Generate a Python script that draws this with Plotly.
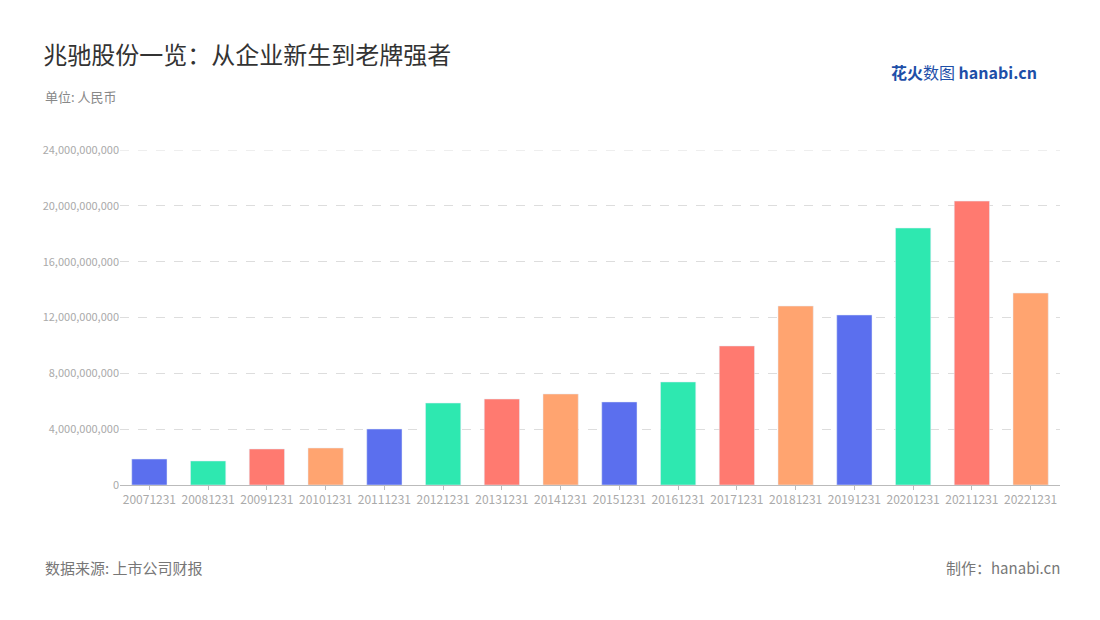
import plotly.graph_objects as go

years = ["20071231","20081231","20091231","20101231","20111231","20121231","20131231","20141231",
         "20151231","20161231","20171231","20181231","20191231","20201231","20211231","20221231"]
revenue = [1.86e9,1.72e9,2.58e9,2.65e9,4.01e9,5.87e9,6.16e9,6.52e9,5.95e9,7.38e9,9.96e9,12.82e9,12.18e9,18.41e9,20.34e9,13.75e9]
palette = ["#5B6FEE","#2EE8B0","#FF7A70","#FFA470"]
tickvals = [0,4e9,8e9,12e9,16e9,20e9,24e9]
ticktext = ["0","4,000,000,000","8,000,000,000","12,000,000,000","16,000,000,000","20,000,000,000","24,000,000,000"]

colors = [palette[i % 4] for i in range(len(years))]
font = "Noto Sans CJK SC"
fig = go.Figure(go.Bar(x=years, y=revenue, marker_color=colors, width=0.6))
fig.update_layout(
    width=1100, height=620, margin=dict(l=112, r=48, t=142, b=143),
    plot_bgcolor="white", paper_bgcolor="white", showlegend=False,
    font=dict(family=font, color="#999"),
    title=dict(text="兆驰股份一览：从企业新生到老牌强者", x=0.032, y=0.924, xanchor="left", yanchor="middle",
               font=dict(size=24, color="#333", family=font)),
    shapes=[dict(type="line", xref="paper", x0=0, x1=1, yref="y", y0=tickvals[-1], y1=tickvals[-1],
                 line=dict(color="#ddd", width=1, dash="dash"), layer="below")],
    annotations=[
        dict(text="单位: 人民币", x=-0.082, y=1.161, xref="paper", yref="paper", xanchor="left", showarrow=False,
             font=dict(size=13, color="#888"), yanchor="middle"),
        dict(text="数据来源: 上市公司财报", x=-0.082, y=-0.245, xref="paper", yref="paper", xanchor="left", showarrow=False,
             font=dict(size=15, color="#777"), yanchor="middle"),
        dict(text="制作：hanabi.cn", x=1.002, y=-0.245, xref="paper", yref="paper", xanchor="right", showarrow=False,
             font=dict(size=15, color="#777"), yanchor="middle"),
        dict(text="<b>花火</b>数图 <b>hanabi.cn</b>", x=0.978, y=1.233, xref="paper", yref="paper", xanchor="right", showarrow=False,
             font=dict(size=16, color="#1E4FA8"), yanchor="middle"),
    ],
)
fig.update_xaxes(showline=True, linecolor="#bbb", tickfont=dict(size=12, color="#aaa"), ticks="outside", ticklen=4, tickcolor="#bbb")
fig.update_yaxes(range=[0,24e9], tickvals=tickvals, ticktext=ticktext, gridcolor="#ddd", griddash="dash",
                 zeroline=False, tickfont=dict(size=11, color="#aaa"), showline=False)
fig.write_html("out.html")
